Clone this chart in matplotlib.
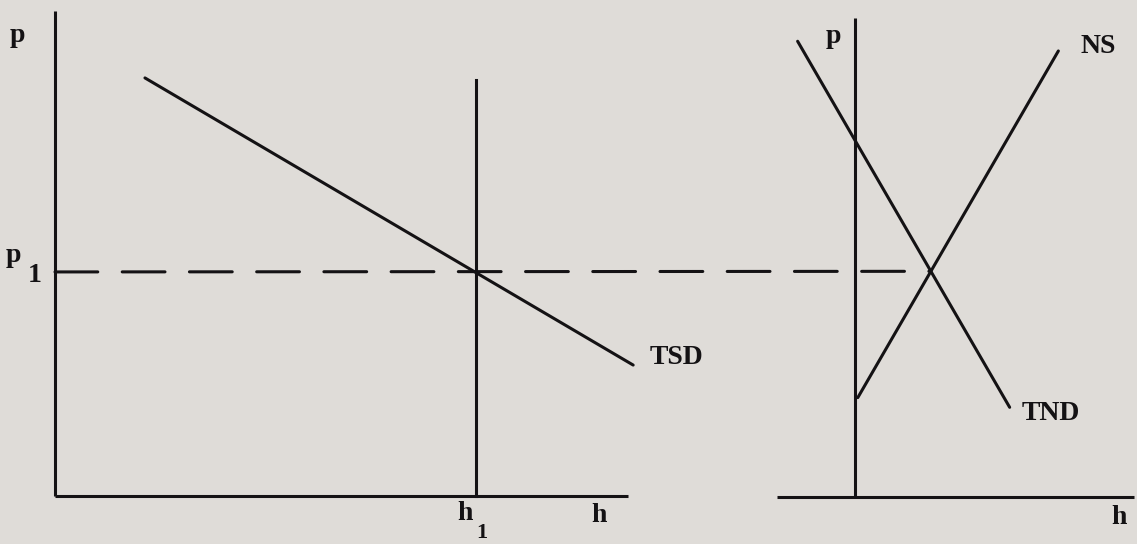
import matplotlib
matplotlib.use("Agg")
import matplotlib.pyplot as plt
import numpy as np
from matplotlib.patches import ConnectionPatch

# left panel: total stock demand against a fixed stock h1
h1 = 7.35
p1 = 4.62
tsd_h = [1.57, 10.09]
tsd_p = [8.62, 2.70]
h1_top = 8.58

# right panel: new-construction demand and supply
tnd_h = [-1.0, 2.7]
tnd_p = [9.4, 1.85]
ns_h = [0.05, 3.55]
ns_p = [2.05, 9.2]

PAPER = "#dfdcd8"
INK = "#141214"
LW = 2.2
FONT = dict(family="Liberation Serif", fontweight="bold", color=INK)

W, H = 1137, 544
fig = plt.figure(figsize=(W / 100, H / 100), dpi=100, facecolor=PAPER)


def px_axes(x0, x1, y_top, y_bot):
    return fig.add_axes([x0 / W, 1 - y_bot / H, (x1 - x0) / W, (y_bot - y_top) / H])


def style(ax):
    ax.set_facecolor("none")
    for s in ("top", "right"):
        ax.spines[s].set_visible(False)
    for s in ("left", "bottom"):
        ax.spines[s].set_linewidth(LW)
        ax.spines[s].set_color(INK)
        ax.spines[s].set_capstyle("butt")
    ax.set_xticks([])
    ax.set_yticks([])


def crossing(h_a, p_a, h_b, p_b):
    ka = np.polyfit(h_a, p_a, 1)
    kb = np.polyfit(h_b, p_b, 1)
    h = (kb[1] - ka[1]) / (ka[0] - kb[0])
    return h, np.polyval(ka, h)


# --- left panel
axl = px_axes(55, 628, 11, 496)
style(axl)
axl.set_xlim(0, 10)
axl.set_ylim(0, 10)
axl.plot(tsd_h, tsd_p, color=INK, lw=LW, clip_on=False, solid_capstyle="round")
axl.plot([h1, h1], [0, h1_top], color=INK, lw=LW, clip_on=False)

axl.text(-0.66, 9.5, "p", fontsize=20, ha="center", va="center", **FONT)
axl.text(-0.72, 4.95, "p", fontsize=20, ha="center", va="center", **FONT)
axl.text(-0.36, 4.55, "1", fontsize=20, ha="center", va="center", **FONT)
axl.text(h1 - 0.2, -0.36, "h", fontsize=20, ha="center", va="center", **FONT)
axl.text(h1 + 0.1, -0.76, "1", fontsize=16, ha="center", va="center", **FONT)
axl.text(9.5, -0.4, "h", fontsize=20, ha="center", va="center", **FONT)
axl.text(10.85, 2.85, "TSD", fontsize=20, ha="center", va="center", **FONT)

# --- right panel
axr = px_axes(777, 1134, 18, 497)
style(axr)
axr.set_xlim(-1.36, 4.87)
axr.set_ylim(0, 9.88)
axr.spines["left"].set_position(("data", 0))
axr.plot(tnd_h, tnd_p, color=INK, lw=LW, clip_on=False, solid_capstyle="round")
axr.plot(ns_h, ns_p, color=INK, lw=LW, clip_on=False, solid_capstyle="round")

axr.text(-0.38, 9.5, "p", fontsize=20, ha="center", va="center", **FONT)
axr.text(4.25, 9.3, "NS", fontsize=20, ha="center", va="center", **FONT)
axr.text(3.42, 1.72, "TND", fontsize=20, ha="center", va="center", **FONT)
axr.text(4.6, -0.42, "h", fontsize=20, ha="center", va="center", **FONT)

# dashed price line running from p1 across to the market equilibrium
h_eq, p_eq = crossing(tnd_h, tnd_p, ns_h, ns_p)
link = ConnectionPatch(xyA=(0, p1), coordsA=axl.transData,
                       xyB=(h_eq, p_eq), coordsB=axr.transData,
                       color=INK, lw=LW, linestyle=(0, (14, 8)))
fig.add_artist(link)

fig.savefig("out.png", dpi=100, facecolor=PAPER)
